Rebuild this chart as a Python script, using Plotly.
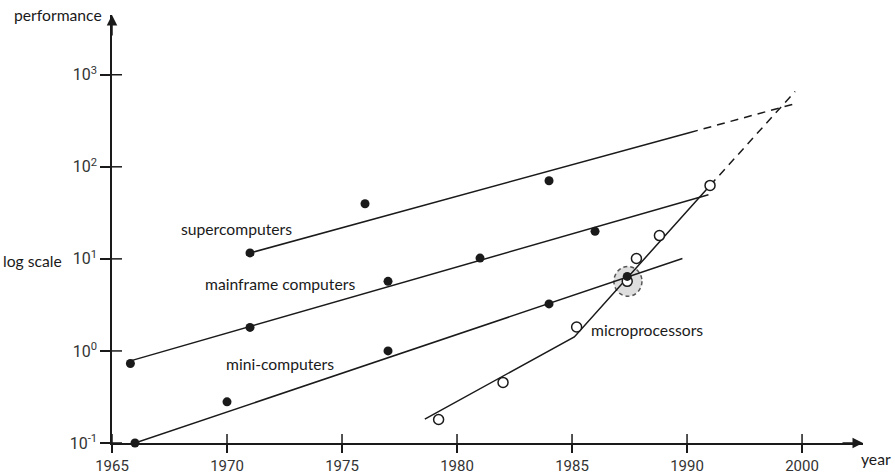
import math
import plotly.graph_objects as go

# ---- data (years, performance on a log scale) ----
super_years = [1971.0, 1976.0, 1984.0]
super_perf = [11.6, 39.7, 70.6]

main_years = [1965.8, 1971.0, 1977.0, 1981.0, 1986.0]
main_perf = [0.73, 1.8, 5.7, 10.2, 19.9]

mini_years = [1966.0, 1970.0, 1977.0, 1984.0, 1987.4]
mini_perf = [0.10, 0.28, 1.0, 3.24, 6.45]

micro_years = [1979.2, 1982.0, 1985.2, 1987.4, 1987.8, 1988.8, 1992.0]
micro_perf = [0.18, 0.455, 1.82, 5.7, 10.1, 17.9, 62.8]

# trend lines: solid part and dashed extrapolation
super_fit_years = [1971.0, 1990.26]
super_fit_perf = [11.6, 236]
super_ext_years = [1990.26, 1999.6]
super_ext_perf = [236, 493]

main_fit_years = [1965.8, 1991.86]
main_fit_perf = [0.78, 49.8]

mini_fit_years = [1966.0, 1989.8]
mini_fit_perf = [0.10, 10.1]

micro_fit_years = [1978.6, 1985.1, 1992.0]
micro_fit_perf = [0.182, 1.42, 62.6]
micro_ext_years = [1992.0, 1999.4]
micro_ext_perf = [62.6, 659]

# highlighted crossing of mini-computers and microprocessors
cross_year = 1987.43
cross_perf = 5.7

x_tick_years = [1965, 1970, 1975, 1980, 1985, 1990, 2000]
y_tick_vals = [0.1, 1, 10, 100, 1000]
y_tick_text = ["10<sup>-1</sup>", "10<sup>0</sup>", "10<sup>1</sup>",
               "10<sup>2</sup>", "10<sup>3</sup>"]

series_labels = ["supercomputers", "mainframe computers", "mini-computers", "microprocessors"]
label_years = [1970.42, 1972.3, 1972.3, 1985.75]
label_perf = [21.3, 5.31, 0.726, 1.68]


def year_pos(y):
    """The time axis runs at half speed after 1990."""
    return y if y <= 1990 else 1990 + (y - 1990) / 2


def pos(years):
    return [year_pos(y) for y in years]


INK = "#1a1a1a"
fig = go.Figure()


def line(xs, ys, dash="solid"):
    fig.add_trace(go.Scatter(x=pos(xs), y=ys, mode="lines",
                             line=dict(color=INK, width=1.5, dash=dash),
                             hoverinfo="skip", showlegend=False, cliponaxis=False))


line(super_fit_years, super_fit_perf)
line(super_ext_years, super_ext_perf, dash="8px,6px")
line(main_fit_years, main_fit_perf)
line(mini_fit_years, mini_fit_perf)
line(micro_fit_years, micro_fit_perf)
line(micro_ext_years, micro_ext_perf, dash="8px,6px")

# microprocessors: open circles
fig.add_trace(go.Scatter(x=pos(micro_years), y=micro_perf, mode="markers",
                         marker=dict(symbol="circle", size=10, color="white",
                                     line=dict(color=INK, width=1.5)),
                         showlegend=False, cliponaxis=False))

# other families: filled dots
for xs, ys in [(super_years, super_perf), (main_years, main_perf), (mini_years, mini_perf)]:
    fig.add_trace(go.Scatter(x=pos(xs), y=ys, mode="markers",
                             marker=dict(symbol="circle", size=9, color=INK),
                             showlegend=False, cliponaxis=False))

shapes = []
# tick marks crossing the axes
for yr in x_tick_years:
    shapes.append(dict(type="line", xref="x", yref="paper", ysizemode="pixel", yanchor=0,
                       x0=year_pos(yr), x1=year_pos(yr), y0=-9, y1=9,
                       line=dict(color=INK, width=1.5)))
for v in y_tick_vals:
    shapes.append(dict(type="line", xref="paper", yref="y", xsizemode="pixel", xanchor=0,
                       x0=-10, x1=10, y0=v, y1=v,
                       line=dict(color=INK, width=1.5)))
# dashed ring round the crossing point
ring_dx = 0.61      # half width, in years
ring_fy = 1.45      # half height, as a factor on the log axis
shapes.append(dict(type="circle", xref="x", yref="y", layer="below",
                   x0=year_pos(cross_year) - ring_dx, x1=year_pos(cross_year) + ring_dx,
                   y0=cross_perf / ring_fy, y1=cross_perf * ring_fy,
                   fillcolor="rgba(0,0,0,0.13)",
                   line=dict(color="#555555", width=1.5, dash="4px,3px")))

TXT = dict(family="Lato, sans-serif", size=15.7, color=INK)
annotations = [
    # axis arrows
    dict(xref="paper", yref="paper", x=0, y=1, ax=0, ay=22, text="", showarrow=True,
         arrowhead=2, arrowsize=1.4, arrowwidth=1.5, arrowcolor=INK),
    dict(xref="paper", yref="paper", x=1, y=0, ax=-22, ay=0, text="", showarrow=True,
         arrowhead=2, arrowsize=1.4, arrowwidth=1.5, arrowcolor=INK),
    # axis titles
    dict(xref="paper", yref="paper", x=0, xshift=-54, y=1.0, text="performance",
         showarrow=False, font=TXT, xanchor="center", yanchor="middle"),
    dict(xref="paper", yref="y", x=0, xshift=-48, y=math.log10(9.4), text="log scale",
         showarrow=False, font=TXT, xanchor="right", yanchor="middle"),
    dict(xref="paper", yref="paper", x=1.0, xshift=-4, y=0, yshift=-16, text="year",
         showarrow=False, font=TXT, xanchor="left", yanchor="middle"),
]
# series labels
for txt, lx, ly in zip(series_labels, label_years, label_perf):
    anchor = "left" if txt == "microprocessors" else "center"
    annotations.append(dict(xref="x", yref="y", x=year_pos(lx), y=math.log10(ly),
                            text=txt, showarrow=False, font=TXT,
                            xanchor=anchor, yanchor="middle"))

TICKFONT = dict(family="Roboto, sans-serif", size=16, color="#333333")
fig.update_layout(
    width=895, height=475,
    margin=dict(l=112, r=32, t=15, b=32, autoexpand=False),
    paper_bgcolor="white", plot_bgcolor="white",
    shapes=shapes, annotations=annotations,
    xaxis=dict(range=[1965, 1997.65], showgrid=False, zeroline=False, automargin=False,
               showline=True, linecolor=INK, linewidth=1.5,
               tickvals=[year_pos(y) for y in x_tick_years],
               ticktext=[str(y) for y in x_tick_years],
               ticks="outside", ticklen=8, tickwidth=1.5, tickcolor=INK,
               tickfont=dict(family="Roboto, sans-serif", size=15, color="#333333")),
    yaxis=dict(type="log", range=[-1, 3.649], showgrid=False, zeroline=False, automargin=False,
               showline=True, linecolor=INK, linewidth=1.5,
               tickvals=y_tick_vals, ticktext=y_tick_text,
               ticks="outside", ticklen=10, tickwidth=1.5, tickcolor=INK,
               tickfont=TICKFONT),
)

fig.write_html("out.html")
